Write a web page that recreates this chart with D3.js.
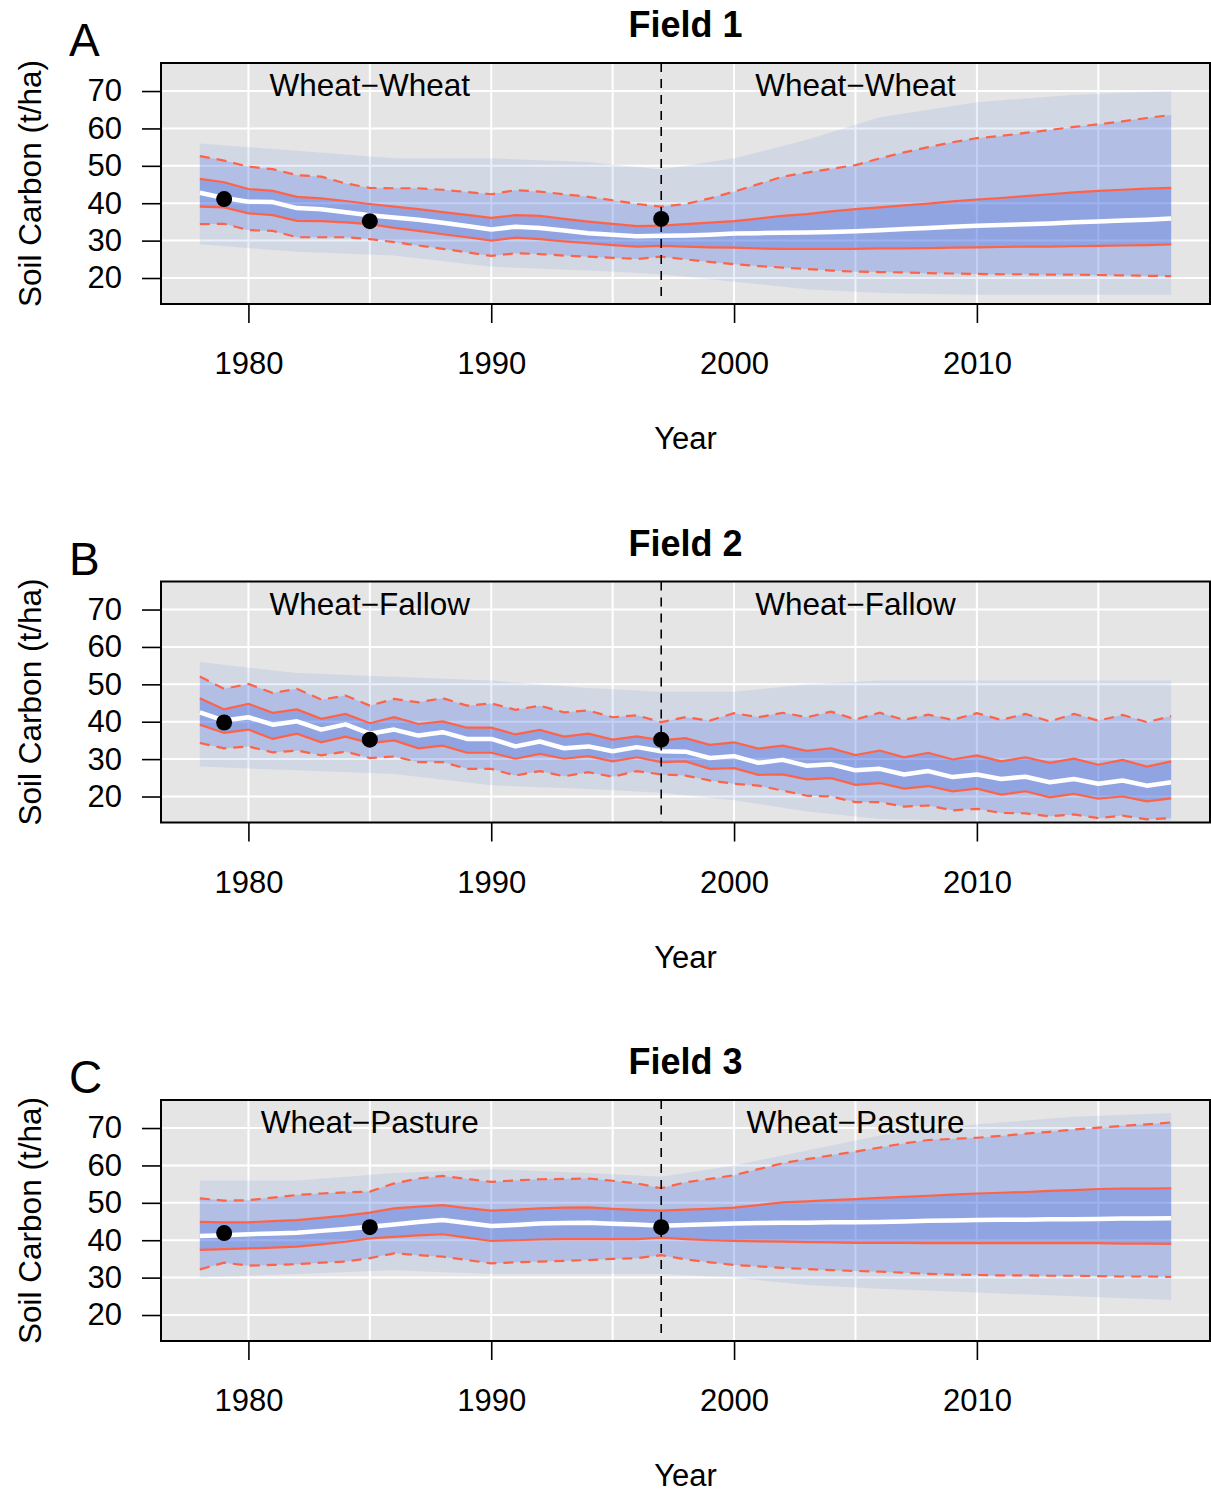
<!DOCTYPE html>
<html>
<head>
<meta charset="utf-8">
<script src="https://cdn.jsdelivr.net/npm/d3@7"></script>
<style>
  body { margin: 0; background: #fff; }
  svg { display: block; font-family: "Liberation Sans", Arial, Helvetica, sans-serif; }
</style>
</head>
<body>
<svg id="chart" width="1211" height="1492"></svg>
<script>
const width = 1211;
const height = 1492;
const pitch = 518.5;
const margin = { left: 161, right: 1210, top: 63, bottom: 304 };

const years = [1978, 1979, 1980, 1981, 1982, 1983, 1984, 1985, 1986, 1987,
    1988, 1989, 1990, 1991, 1992, 1993, 1994, 1995, 1996, 1997,
    1998, 1999, 2000, 2001, 2002, 2003, 2004, 2005, 2006, 2007,
    2008, 2009, 2010, 2011, 2012, 2013, 2014, 2015, 2016, 2017, 2018];
const xTicks = [1980, 1990, 2000, 2010];
const yTicks = [20, 30, 40, 50, 60, 70];
const gridX = [1980, 1985, 1990, 1995, 2000, 2005, 2010, 2015];
const switchYear = 1997;
const obsYears = [1979, 1985, 1997];
const envYears = [1978, 1982, 1986, 1990, 1994, 1997, 2000, 2003, 2006, 2010, 2014, 2018];

// Field 1 (wheat-wheat)
const f1Median = [42.8, 41.4, 40.4, 40.3, 38.7, 38.4, 37.6, 36.8, 36.2, 35.6,
    34.8, 33.9, 33.0, 33.7, 33.4, 32.7, 32.0, 31.6, 31.2, 31.3,
    31.4, 31.6, 31.9, 32.0, 32.1, 32.2, 32.3, 32.5, 32.8, 33.1,
    33.4, 33.7, 34.0, 34.2, 34.4, 34.6, 34.9, 35.1, 35.4, 35.6, 35.9];
const f1Q75 = [46.5, 45.6, 43.8, 43.3, 41.7, 41.3, 40.6, 39.8, 39.1, 38.4,
    37.6, 36.9, 36.1, 36.8, 36.6, 35.8, 35.1, 34.5, 33.9, 34.0,
    34.4, 34.8, 35.2, 35.9, 36.6, 37.1, 37.8, 38.4, 38.9, 39.4,
    39.9, 40.5, 41.0, 41.4, 41.9, 42.4, 42.9, 43.3, 43.6, 43.9, 44.1];
const f1Q25 = [39.1, 38.9, 37.3, 36.8, 35.3, 35.2, 34.9, 34.4, 33.4, 32.6,
    31.7, 30.9, 30.0, 30.8, 30.4, 29.8, 29.3, 28.8, 28.4, 28.6,
    28.4, 28.2, 28.1, 27.9, 27.8, 27.8, 27.8, 27.8, 27.9, 27.9,
    28.0, 28.1, 28.2, 28.3, 28.4, 28.4, 28.5, 28.6, 28.7, 28.8, 29.0];
const f1Hi = [52.6, 51.4, 49.8, 49.1, 47.5, 47.1, 45.3, 44.1, 44.0, 44.0,
    43.6, 43.0, 42.4, 43.5, 43.1, 42.4, 41.7, 40.8, 39.8, 39.1,
    39.8, 41.3, 43.1, 45.1, 47.1, 48.2, 49.2, 50.2, 52.0, 53.6,
    55.0, 56.3, 57.4, 58.0, 58.8, 59.6, 60.4, 61.1, 61.9, 62.8, 63.6];
const f1Lo = [34.4, 34.5, 32.8, 32.6, 30.9, 30.9, 30.9, 30.4, 29.6, 28.7,
    27.8, 26.9, 25.9, 26.6, 26.4, 26.0, 25.7, 25.4, 25.1, 25.7,
    25.0, 24.3, 23.7, 23.2, 22.8, 22.4, 22.0, 21.7, 21.6, 21.5,
    21.3, 21.2, 21.1, 21.0, 21.0, 20.9, 20.9, 20.8, 20.7, 20.6, 20.5];
const f1EnvHi = [56, 54, 52, 52, 51, 49, 52, 57, 63, 67, 69, 70];
const f1EnvLo = [29, 27, 26, 23, 22, 21, 19, 17, 16, 15.5, 15.5, 15.5];
const f1Obs = [41.1, 35.2, 35.8];

// Field 2 (wheat-fallow)
const f2Median = [42.5, 40.3, 41.2, 39.2, 40.1, 37.9, 39.3, 36.8, 37.9, 36.3,
    37.2, 35.4, 35.4, 33.4, 34.7, 32.9, 33.4, 32.1, 33.2, 32.1,
    32.0, 30.3, 30.8, 29.0, 29.8, 28.2, 28.6, 27.0, 27.4, 25.9,
    26.8, 25.2, 25.9, 24.7, 25.3, 23.8, 24.7, 23.4, 24.3, 22.9, 23.8];
const f2Q75 = [46.3, 43.3, 44.8, 42.4, 43.3, 40.8, 42.1, 39.6, 41.2, 39.4,
    40.1, 38.4, 38.4, 36.6, 37.8, 36.0, 36.8, 35.2, 36.1, 35.0,
    35.6, 33.8, 34.5, 32.8, 33.6, 32.2, 32.9, 31.1, 32.3, 30.5,
    31.7, 29.9, 31.0, 29.4, 30.5, 29.0, 30.1, 28.5, 29.8, 28.0, 29.4];
const f2Q25 = [39.2, 37.0, 37.9, 35.4, 36.8, 34.5, 36.0, 34.3, 35.0, 32.9,
    33.6, 31.7, 31.7, 30.1, 31.4, 30.1, 30.8, 29.4, 30.5, 29.2,
    29.4, 27.4, 27.6, 25.8, 25.9, 24.6, 24.9, 23.1, 23.6, 22.1,
    22.8, 21.4, 22.1, 20.5, 21.4, 19.8, 20.7, 19.4, 20.0, 18.7, 19.5];
const f2Hi = [52.1, 48.8, 50.1, 47.7, 48.8, 45.9, 47.0, 44.3, 46.1, 45.2,
    46.3, 44.3, 44.9, 43.2, 44.3, 42.5, 43.0, 41.2, 41.7, 39.9,
    41.2, 40.3, 42.3, 41.2, 42.4, 41.2, 42.7, 40.6, 42.4, 40.5,
    41.9, 40.5, 42.3, 40.5, 42.1, 40.1, 42.1, 40.3, 41.8, 39.9, 41.5];
const f2Lo = [34.3, 32.9, 33.4, 31.8, 32.3, 31.0, 32.0, 30.3, 30.7, 29.2,
    29.2, 27.4, 27.4, 25.6, 26.8, 25.4, 26.5, 25.3, 26.8, 25.9,
    25.6, 24.3, 23.4, 22.9, 21.6, 20.2, 20.0, 18.5, 18.5, 17.3,
    17.6, 16.3, 16.7, 15.6, 15.5, 14.7, 15.2, 14.2, 14.9, 13.9, 14.2];
const f2EnvHi = [56, 53, 52, 51, 49, 48, 48, 50, 51, 51, 51, 51];
const f2EnvLo = [28, 27, 26, 23, 22, 21, 19, 16, 14, 13.5, 13.5, 13.5];
const f2Obs = [39.8, 35.2, 35.2];

// Field 3 (wheat-pasture)
const f3Median = [41.1, 41.3, 41.6, 41.8, 42.0, 42.5, 43.0, 43.6, 44.2, 44.9,
    45.4, 44.6, 43.8, 44.1, 44.5, 44.6, 44.7, 44.4, 44.2, 43.9,
    44.1, 44.3, 44.5, 44.6, 44.7, 44.7, 44.8, 44.8, 44.9, 45.0,
    45.2, 45.3, 45.4, 45.5, 45.5, 45.6, 45.6, 45.7, 45.8, 45.8, 45.9];
const f3Q75 = [44.9, 44.8, 44.8, 45.1, 45.4, 46.0, 46.6, 47.4, 48.5, 49.0,
    49.4, 48.6, 47.9, 48.2, 48.5, 48.7, 48.8, 48.4, 48.1, 47.9,
    48.2, 48.4, 48.7, 49.4, 50.1, 50.4, 50.7, 51.0, 51.3, 51.6,
    51.9, 52.2, 52.5, 52.7, 52.9, 53.2, 53.4, 53.7, 53.8, 53.8, 53.9];
const f3Q25 = [37.4, 37.6, 37.8, 38.0, 38.3, 38.9, 39.6, 40.5, 40.9, 41.3,
    41.6, 40.7, 39.8, 40.0, 40.2, 40.3, 40.3, 40.3, 40.3, 40.7,
    40.3, 40.0, 39.8, 39.7, 39.6, 39.5, 39.4, 39.3, 39.3, 39.3,
    39.2, 39.2, 39.2, 39.2, 39.2, 39.2, 39.2, 39.2, 39.1, 39.1, 39.0];
const f3Hi = [51.2, 50.6, 50.7, 51.4, 52.1, 52.5, 52.8, 53.0, 55.2, 56.5,
    57.2, 56.4, 55.6, 56.0, 56.3, 56.4, 56.5, 55.9, 55.2, 53.9,
    55.5, 56.4, 57.4, 59.0, 60.6, 61.7, 62.7, 63.7, 64.8, 65.9,
    66.8, 67.1, 67.4, 67.9, 68.5, 69.0, 69.6, 70.1, 70.6, 71.0, 71.5];
const f3Lo = [32.2, 34.0, 33.2, 33.4, 33.6, 34.0, 34.3, 35.2, 36.5, 36.0,
    35.6, 34.7, 33.8, 34.1, 34.3, 34.5, 34.7, 35.0, 35.2, 36.0,
    34.9, 34.1, 33.4, 33.0, 32.6, 32.3, 32.0, 31.8, 31.6, 31.3,
    31.0, 30.8, 30.7, 30.6, 30.6, 30.5, 30.5, 30.4, 30.3, 30.3, 30.2];
const f3EnvHi = [56, 56, 58, 59, 58, 57, 60, 64, 68, 71, 73, 74];
const f3EnvLo = [30, 31, 32, 31, 31, 31, 30, 28, 27, 26, 25, 24];
const f3Obs = [41.9, 43.5, 43.5];

const panelLetters = ["A", "B", "C"];
const fieldTitles = ["Field 1", "Field 2", "Field 3"];
const rotations = ["Wheat\u2212Wheat", "Wheat\u2212Fallow", "Wheat\u2212Pasture"];

const panels = [
    { median: f1Median, q75: f1Q75, q25: f1Q25, hi: f1Hi, lo: f1Lo, envHi: f1EnvHi, envLo: f1EnvLo, obs: f1Obs },
    { median: f2Median, q75: f2Q75, q25: f2Q25, hi: f2Hi, lo: f2Lo, envHi: f2EnvHi, envLo: f2EnvLo, obs: f2Obs },
    { median: f3Median, q75: f3Q75, q25: f3Q25, hi: f3Hi, lo: f3Lo, envHi: f3EnvHi, envLo: f3EnvLo, obs: f3Obs },
];

const red = "#ff6347";
const blue = "#4169e1";
const svg = d3.select("#chart");

const x = d3.scaleLinear().domain([1976.4, 2019.6]).range([margin.left, margin.right]);
const y = d3.scaleLinear().domain([13.05, 77.5]).range([margin.bottom, margin.top]);

const line = (vals, xs) => d3.line()
    .x((d, i) => x(xs[i]))
    .y((d) => y(d))(vals);
const band = (lo, hi, xs) => d3.area()
    .x((d, i) => x(xs[i]))
    .y0((d, i) => y(lo[i]))
    .y1((d) => y(d))(hi);

const drawPanel = (p, k) => {
    const g = svg.append("g").attr("transform", `translate(0,${k * pitch})`);
    const clipId = `clip${k}`;
    g.append("clipPath").attr("id", clipId)
        .append("rect")
        .attr("x", margin.left).attr("y", margin.top)
        .attr("width", margin.right - margin.left)
        .attr("height", margin.bottom - margin.top);

    g.append("rect")
        .attr("x", margin.left).attr("y", margin.top)
        .attr("width", margin.right - margin.left)
        .attr("height", margin.bottom - margin.top)
        .attr("fill", "#e5e5e5");

    const plot = g.append("g").attr("clip-path", `url(#${clipId})`);

    // white grid
    plot.selectAll(".gy").data(yTicks).join("line")
        .attr("x1", margin.left).attr("x2", margin.right)
        .attr("y1", (d) => y(d)).attr("y2", (d) => y(d))
        .attr("stroke", "#fff").attr("stroke-width", 2);
    plot.selectAll(".gx").data(gridX).join("line")
        .attr("x1", (d) => x(d)).attr("x2", (d) => x(d))
        .attr("y1", margin.top).attr("y2", margin.bottom)
        .attr("stroke", "#fff").attr("stroke-width", 2);

    // simulated runs: density shown as nested bands
    plot.append("path").attr("d", band(p.envLo, p.envHi, envYears))
        .attr("fill", blue).attr("fill-opacity", 0.11);
    plot.append("path").attr("d", band(p.lo, p.hi, years))
        .attr("fill", blue).attr("fill-opacity", 0.22);
    plot.append("path").attr("d", band(p.q25, p.q75, years))
        .attr("fill", blue).attr("fill-opacity", 0.3);

    // quantiles
    [p.hi, p.lo].forEach((s) => {
        plot.append("path").attr("d", line(s, years))
            .attr("fill", "none").attr("stroke", red)
            .attr("stroke-width", 2.2).attr("stroke-dasharray", "10,7");
    });
    [p.q75, p.q25].forEach((s) => {
        plot.append("path").attr("d", line(s, years))
            .attr("fill", "none").attr("stroke", red).attr("stroke-width", 2.2);
    });
    plot.append("path").attr("d", line(p.median, years))
        .attr("fill", "none").attr("stroke", "#fff").attr("stroke-width", 4.5)
        .attr("stroke-linejoin", "round");

    // rotation change
    plot.append("line")
        .attr("x1", x(switchYear)).attr("x2", x(switchYear))
        .attr("y1", margin.top).attr("y2", margin.bottom)
        .attr("stroke", "#000").attr("stroke-width", 1.6)
        .attr("stroke-dasharray", "9,7");

    // measurements
    plot.selectAll("circle").data(p.obs).join("circle")
        .attr("cx", (d, i) => x(obsYears[i]))
        .attr("cy", (d) => y(d))
        .attr("r", 8).attr("fill", "#000");

    // rotation labels
    g.selectAll(".rot").data([1985, 2005]).join("text")
        .attr("x", (d) => x(d)).attr("y", y(70) + 5)
        .attr("text-anchor", "middle").attr("font-size", 31.5)
        .text(rotations[k]);

    // box
    g.append("rect")
        .attr("x", margin.left).attr("y", margin.top)
        .attr("width", margin.right - margin.left)
        .attr("height", margin.bottom - margin.top)
        .attr("fill", "none").attr("stroke", "#000").attr("stroke-width", 2);

    // axes
    const ax = g.append("g").attr("transform", `translate(0,${margin.bottom})`)
        .call(d3.axisBottom(x).tickValues(xTicks).tickFormat(d3.format("d"))
            .tickSize(19).tickPadding(29));
    const ay = g.append("g").attr("transform", `translate(${margin.left},0)`)
        .call(d3.axisLeft(y).tickValues(yTicks).tickSize(19).tickPadding(20));
    [ax, ay].forEach((a) => {
        a.select(".domain").remove();
        a.selectAll(".tick line").attr("stroke", "#000").attr("stroke-width", 1.6);
        a.selectAll(".tick text").attr("font-size", 31)
            .attr("font-family", "Liberation Sans, Arial, sans-serif").attr("fill", "#000");
    });

    g.append("text")
        .attr("x", (margin.left + margin.right) / 2).attr("y", 449)
        .attr("text-anchor", "middle").attr("font-size", 31)
        .text("Year");
    g.append("text")
        .attr("transform", `translate(41,${(margin.top + margin.bottom) / 2}) rotate(-90)`)
        .attr("text-anchor", "middle").attr("font-size", 31.5)
        .text("Soil Carbon (t/ha)");
    g.append("text")
        .attr("x", (margin.left + margin.right) / 2).attr("y", 37)
        .attr("text-anchor", "middle").attr("font-size", 36).attr("font-weight", "bold")
        .text(fieldTitles[k]);
    g.append("text")
        .attr("x", 69).attr("y", 56)
        .attr("font-size", 46)
        .text(panelLetters[k]);
};

panels.forEach(drawPanel);
</script>
</body>
</html>
